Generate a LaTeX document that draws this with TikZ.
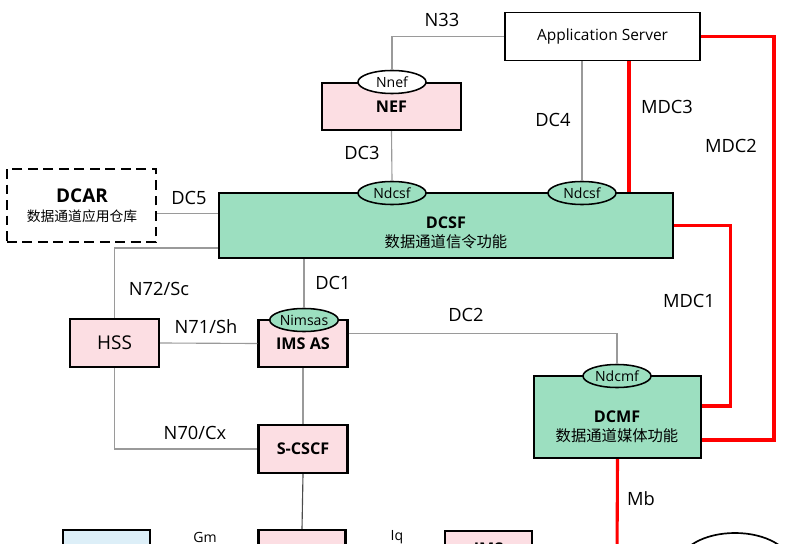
\documentclass[tikz,border=0pt]{standalone}
\usepackage{fontspec}
\setmainfont{Open Sans}
\newfontfamily\cjk{Noto Sans CJK SC}
\usetikzlibrary{shapes.geometric}

\definecolor{nfpink}{HTML}{FCDEE3}
\definecolor{nfgreen}{HTML}{9CDFC0}
\definecolor{nfblue}{HTML}{DDEFF8}
\definecolor{linkgray}{HTML}{9A9A9A}

\tikzset{
    nfbox/.style={draw,line width=1.6pt,fill=nfpink,inner sep=0pt,align=center,
        font=\fontsize{11.5}{14}\selectfont\bfseries},
    dcbox/.style={nfbox,fill=nfgreen},
    port/.style={draw,ellipse,line width=1.1pt,inner sep=0pt,minimum width=1.7cm,
        minimum height=0.575cm,font=\fontsize{10}{12}\selectfont},
    txt/.style={align=center,inner sep=0pt,font=\fontsize{11.5}{13.5}\selectfont},
    lbl/.style={inner sep=0pt,font=\fontsize{13}{15}\selectfont},
    link/.style={draw=linkgray,line width=0.8pt},
    mdc/.style={draw=red,line width=2.2pt}
}

\begin{document}
\begin{tikzpicture}[x=0.025cm,y=-0.025cm]
    \useasboundingbox (0,0) rectangle (800,544);
    \clip (0,0) rectangle (800,544);
    % Application Server and NEF
    \node[draw,line width=1.3pt,minimum width=4.875cm,minimum height=1.2cm,
        font=\fontsize{11}{13}\selectfont] (as) at (602.5,36.5) {Application Server};
    \node[nfbox,minimum width=3.475cm,minimum height=1.175cm] (nef) at (391.5,106.5) {NEF};
    \node[port,fill=white] (nnef) at (392,82) {Nnef};
    % DCAR
    \node[draw,dashed,line width=1.5pt,dash pattern=on 7pt off 4pt,minimum width=3.725cm,
        minimum height=1.825cm] (dcar) at (81.5,205.5) {};
    \node[txt] (dcartxt) at (82,206) {{\fontsize{13.5}{15}\selectfont\bfseries DCAR}\\
        {\cjk\fontsize{9.8}{12}\selectfont 数据通道应用仓库}};
    % DCSF
    \node[dcbox,minimum width=11.35cm,minimum height=1.625cm] (dcsf) at (446,225.5) {};
    \node[txt] (dcsftxt) at (446,233) {{\bfseries DCSF}\\{\cjk\fontsize{10.9}{13}\selectfont 数据通道信令功能}};
    \node[port,fill=nfgreen] (nd1) at (392,193) {Ndcsf};
    \node[port,fill=nfgreen] (nd2) at (582,193) {Ndcsf};
    % HSS, IMS AS, S-CSCF
    \node[nfbox,minimum width=2.225cm,minimum height=1.2cm,
        font=\fontsize{13.5}{15}\selectfont] (hss) at (114.5,343) {HSS};
    \node[nfbox,minimum width=2.225cm,minimum height=1.175cm] (imsas) at (303,343.5) {IMS AS};
    \node[port,fill=nfgreen] (nimsas) at (304,320) {Nimsas};
    \node[nfbox,minimum width=2.225cm,minimum height=1.2cm] (scscf) at (303,449) {S-CSCF};
    % DCMF
    \node[dcbox,minimum width=4.175cm,minimum height=2.05cm] (dcmf) at (617.5,417) {};
    \node[txt] (dcmftxt) at (617,427) {{\bfseries DCMF}\\{\cjk\fontsize{10.9}{13}\selectfont 数据通道媒体功能}};
    \node[port,fill=nfgreen] (ndcmf) at (617,376) {Ndcmf};
    % Bottom row
    \node[nfbox,fill=nfblue,minimum width=2.175cm,minimum height=1.2cm] (ue) at (106.5,554) {};
    \node[nfbox,minimum width=2.175cm,minimum height=1.2cm] (pcscf) at (302,554) {};
    \node[nfbox,minimum width=2.175cm,minimum height=1.2cm] (imsagw) at (488.5,555) {};
    \node[txt,font=\fontsize{11.5}{13.5}\selectfont\bfseries] (imsagwtxt) at (488.5,549) {IMS};
    \node[draw,ellipse,line width=1.2pt,minimum width=2.8cm,minimum height=1.6cm] (ipnet) at (735,565) {};

    % Signalling links
    \draw[link] (as.west) -| (nnef.north);
    \draw[link] (nef.south) -- (nd1.north);
    \draw[link] (nd2.north |- as.south) -- (nd2.north);
    \coordinate (dc5a) at ([yshift=-0.19cm]dcar.east);
    \draw[link] (dc5a) -- (dc5a -| dcsf.west);
    \coordinate (n72a) at ([yshift=-0.5625cm]dcsf.west);
    \draw[link] (n72a) -| (hss.north);
    \draw[link] (nimsas.north |- dcsf.south) -- (nimsas.north);
    \draw[link] (hss.east) -- (imsas.west);
    \draw[link] ([yshift=0.26cm]imsas.east) -| (ndcmf.north);
    \draw[link] (imsas.south) -- (scscf.north);
    \draw[link] (hss.south) |- (scscf.west);
    \draw[draw=black!70,line width=0.8pt] (scscf.south) -- (pcscf.north);

    % Media links
    \draw[mdc] ([xshift=0.6625cm]as.south) -- ([xshift=0.6625cm]as.south |- dcsf.north);
    \draw[mdc] (as.east) -- ++(73,0) |- ([yshift=-0.575cm]dcmf.east);
    \draw[mdc] (dcsf.east) -- ++(56,0) |- ([yshift=0.275cm]dcmf.east);
    \coordinate (mbend) at (617,560);
    \draw[mdc] (dcmf.south) -- (mbend);

    % Labels
    \node[lbl] (lbn33) at (442,20) {N33};
    \node[lbl] (lbdc3) at (362,153) {DC3};
    \node[lbl] (lbdc4) at (553,120) {DC4};
    \node[lbl] (lbmdc3) at (667,107) {MDC3};
    \node[lbl] (lbmdc2) at (731,146) {MDC2};
    \node[lbl] (lbdc5) at (189,198) {DC5};
    \node[lbl] (lbn72) at (159,289) {N72/Sc};
    \node[lbl] (lbdc1) at (333,283) {DC1};
    \node[lbl] (lbdc2) at (466,315) {DC2};
    \node[lbl] (lbmdc1) at (689,301) {MDC1};
    \node[lbl] (lbn71) at (206,327) {N71/Sh};
    \node[lbl] (lbn70) at (195,433) {N70/Cx};
    \node[lbl] (lbmb) at (641,499) {Mb};
    \node[lbl,font=\fontsize{10}{12}\selectfont] (lbgm) at (205,537) {Gm};
    \node[lbl,font=\fontsize{10}{12}\selectfont] (lbiq) at (397,537) {Iq};
\end{tikzpicture}
\end{document}
